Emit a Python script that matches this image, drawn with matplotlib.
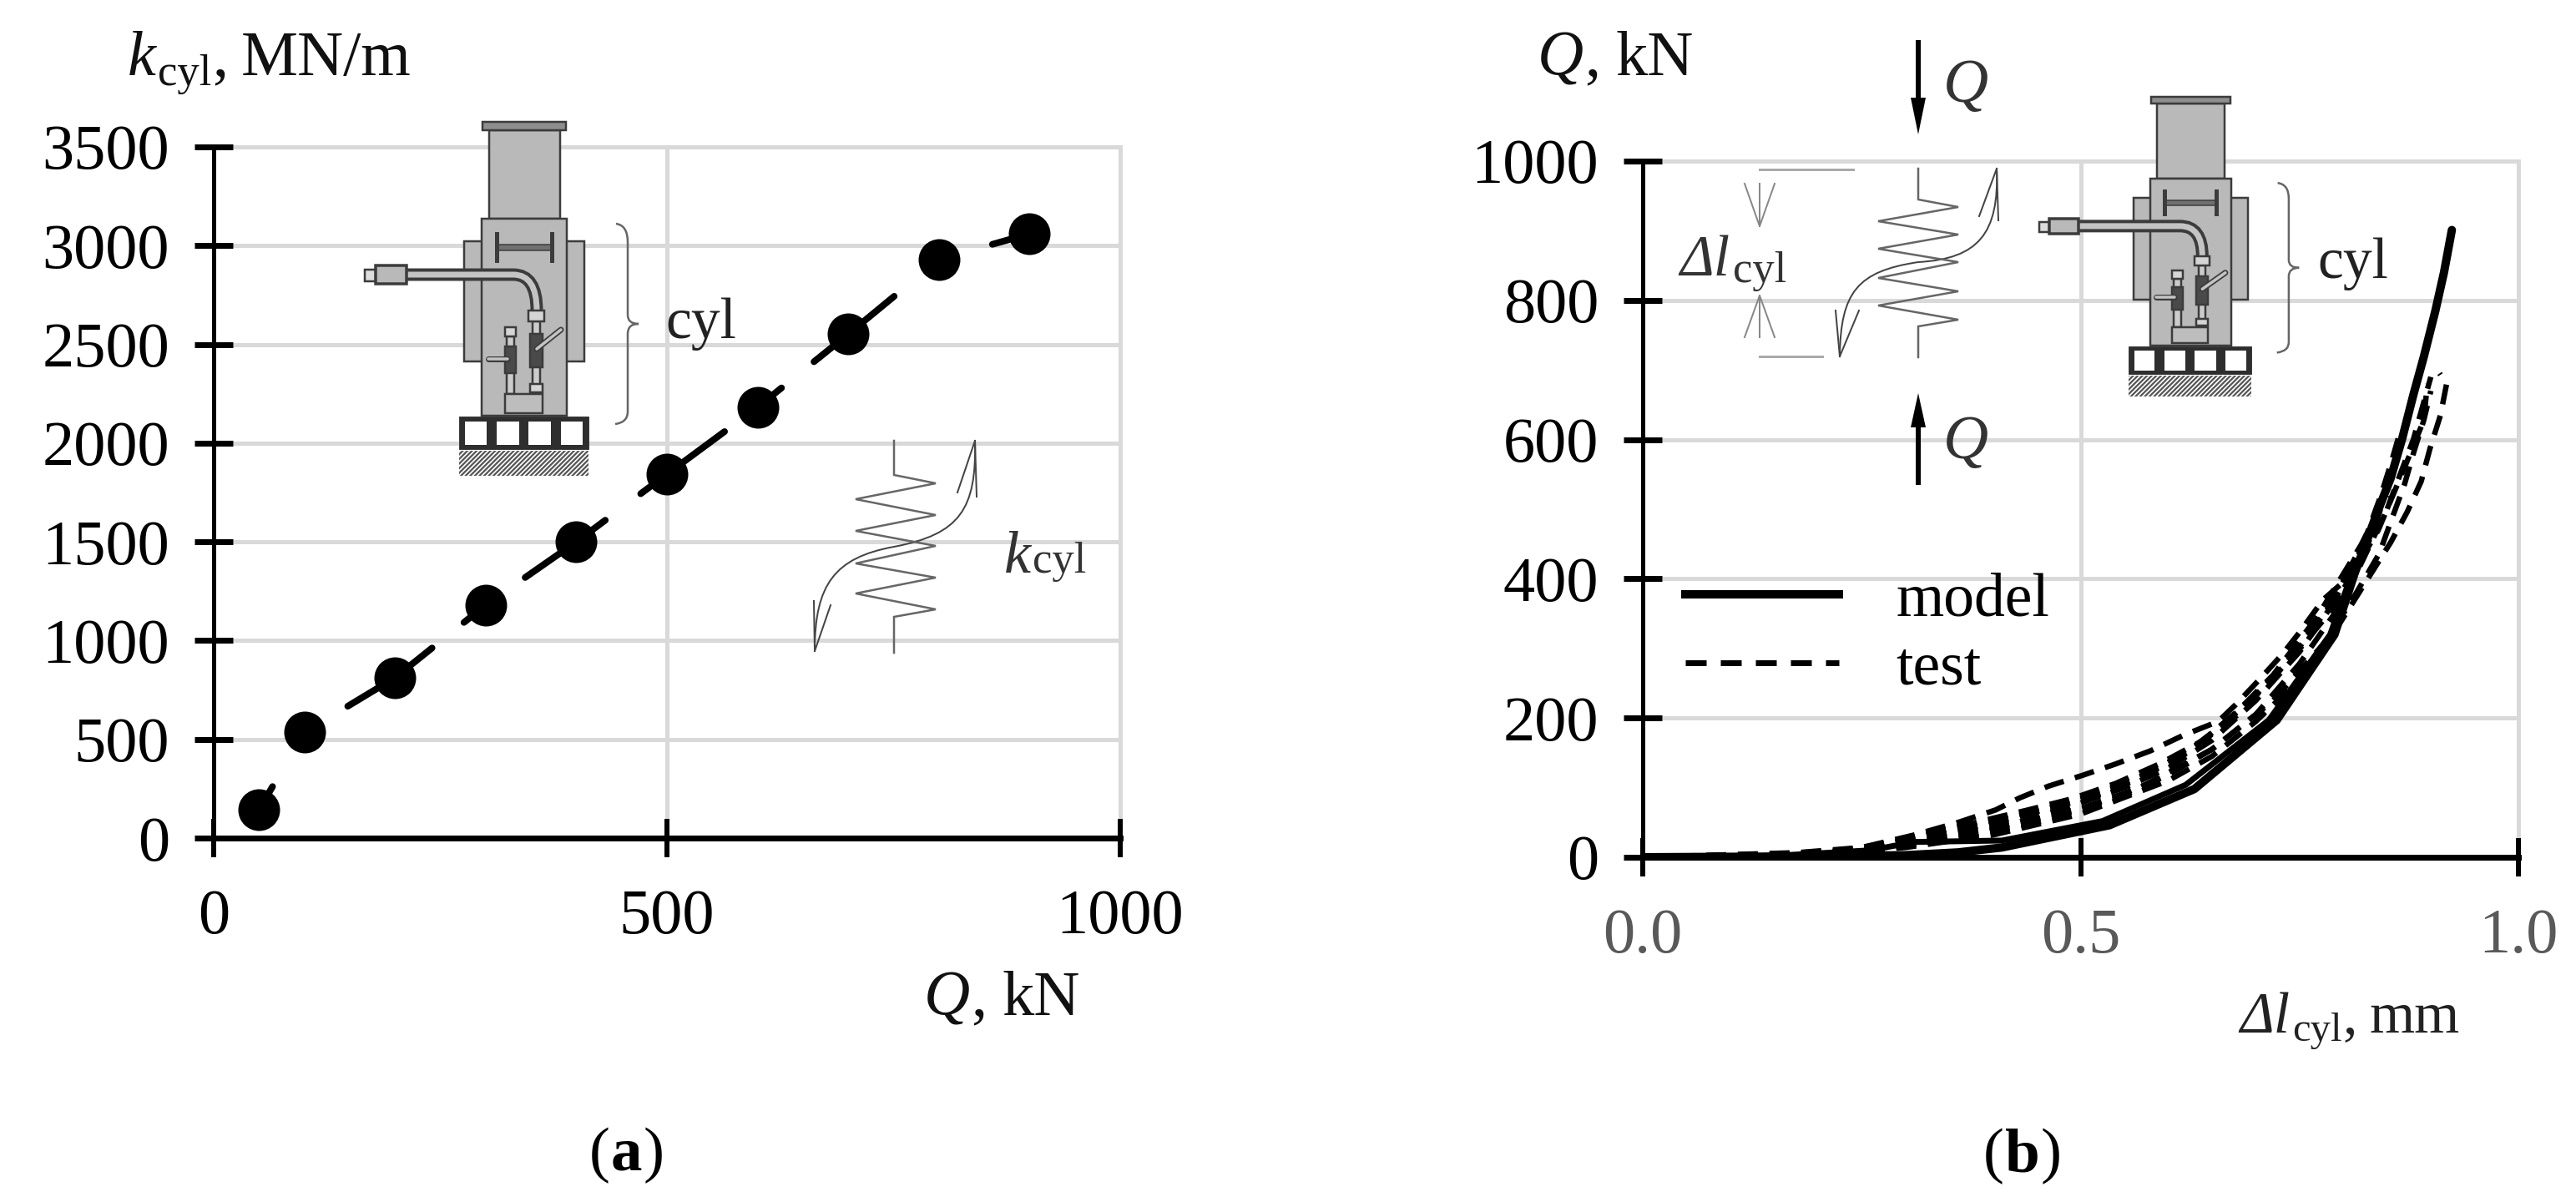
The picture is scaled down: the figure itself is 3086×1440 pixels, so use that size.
"""
plot.py - two-panel cylinder stiffness figure: k_cyl vs Q (a) and Q vs dl_cyl (b).
Positions are worked out in image pixels of the 3086x1440 picture.
"""
import matplotlib
matplotlib.use("Agg")
import matplotlib.pyplot as plt
from matplotlib.lines import Line2D
from matplotlib.patches import Rectangle, PathPatch, Polygon
from matplotlib.path import Path
from matplotlib.transforms import Affine2D

plt.rcParams["font.family"] = ["Liberation Serif", "DejaVu Serif"]
plt.rcParams["lines.scale_dashes"] = False
plt.rcParams["hatch.linewidth"] = 1.6

W, H = 3086, 1440
PX = 0.72  # points per image pixel at dpi 100

# --- panel (a) ---
q_kn = [50, 100, 200, 300, 400, 500, 600, 700, 800, 900]
k_cyl = [144, 535, 812, 1180, 1500, 1843, 2182, 2552, 2930, 3060]
a_xticks = [0, 500, 1000]
a_yticks = [0, 500, 1000, 1500, 2000, 2500, 3000, 3500]

# --- panel (b) ---
b_xticks = [0.0, 0.5, 1.0]
b_xticklabels = ["0.0", "0.5", "1.0"]
b_yticks = [0, 200, 400, 600, 800, 1000]

model_x = [0, .15, .3, .36, .41, .533, .63, .724, .79, .813, .825, .839, .854, .867, .88, .892, .905, .915, .924]
model_y = [0, 1, 3, 7, 14, 46, 98, 197, 320, 408, 448, 496, 544, 600, 664, 719, 784, 840, 901]
model2_x = [0, .15, .26, .31, .41, .525, .62, .715, .785, .81, .825]
model2_y = [0, 2, 10, 22, 24, 52, 104, 197, 320, 408, 448]

test_a_x = [0, .15, .25, .31, .36, .403, .43, .463, .503, .54, .58, .617, .657, .677, .704, .73, .75, .777, .797, .817, .828, .843, .855, .866]
test_a_y = [0, 4, 14, 32, 50, 68, 85, 102, 118, 134, 153, 175, 195, 219, 255, 291, 323, 370, 392, 438, 468, 520, 568, 616]
test_b_x = [0, .15, .25, .31, .35, .396, .443, .483, .523, .557, .59, .624, .654, .684, .717, .75, .784, .81, .835, .86, .878]
test_b_y = [0, 3, 12, 28, 40, 52, 64, 76, 90, 108, 129, 151, 183, 215, 255, 299, 351, 400, 470, 570, 660]
test_c_x = [0, .2, .3, .38, .45, .5, .55, .6, .65, .7, .75, .8, .85, .88, .9]
test_c_y = [0, 5, 18, 38, 55, 70, 92, 118, 155, 205, 278, 368, 500, 600, 690]
test_d_x = [0, .2, .3, .35, .4, .45, .5, .55, .6, .65, .7, .75, .8, .84, .87, .892, .896]
test_d_y = [0, 4, 16, 28, 40, 58, 78, 100, 128, 168, 225, 295, 385, 470, 560, 628, 680]
test_e_x = [0, .2, .3, .4, .5, .6, .65, .7, .75, .797, .832, .854, .873, .889, .899, .911, .918, .91]
test_e_y = [0, 4, 14, 32, 62, 110, 145, 195, 255, 338, 408, 452, 496, 540, 587, 635, 680, 695]
test_f_x = [0, .25, .35, .45, .55, .65, .72, .78, .815, .841, .856, .87, .881, .892, .9]
test_f_y = [0, 8, 25, 50, 88, 155, 225, 310, 380, 436, 488, 536, 584, 628, 670]
test_g_x = [0, .2, .28, .33, .38, .44, .49, .54, .59, .64, .69, .74, .79, .83]
test_g_y = [0, 5, 20, 36, 50, 68, 84, 106, 134, 168, 220, 285, 370, 460]
test_h_x = [0, .22, .3, .36, .42, .47, .52, .57, .62, .67, .72, .77, .82, .85]
test_h_y = [0, 7, 24, 38, 55, 72, 92, 117, 150, 198, 262, 345, 448, 520]
test_i_x = [0, .24, .32, .37, .43, .48, .53, .58, .63, .68, .73, .78, .82, .86]
test_i_y = [0, 9, 26, 42, 60, 76, 95, 122, 158, 205, 272, 352, 440, 560]
test_series = [(test_a_x, test_a_y), (test_b_x, test_b_y), (test_c_x, test_c_y), (test_d_x, test_d_y),
               (test_e_x, test_e_y), (test_f_x, test_f_y), (test_g_x, test_g_y), (test_h_x, test_h_y),
               (test_i_x, test_i_y)]

# dash run along the panel (a) line, in image pixels (on, off, on, ...)
a_dashes_px = [32, 136, 123, 49, 42, 49, 118, 53, 125, 53, 33, 50, 124, 50, 37, 49, 37, 50]

# spring sketches, image pixels
spring_a_pts = [(1071, 528), (1071, 569), (1121, 579), (1025, 598), (1121, 617), (1025, 636), (1121, 654),
                (1025, 675), (1121, 692), (1025, 711), (1121, 730), (1071, 739), (1071, 782)]
spring_b_pts = [(2298, 202), (2298, 239), (2346, 248), (2250, 265), (2346, 281), (2250, 298), (2346, 314),
                (2250, 333), (2346, 349), (2250, 366), (2346, 383), (2298, 391), (2298, 428)]

GRID = "#D9D9D9"
LINE = "#666666"
FILL = "#B9B9B9"
DARK = "#3C3C3C"
TICK_FS = 55


def panel_axes(fig, left, right, top, bottom):
    ax = fig.add_axes([left / W, 1 - bottom / H, (right - left) / W, (bottom - top) / H])
    ax.spines[["top", "right"]].set_visible(False)
    ax.spines["left"].set_linewidth(5 * PX)
    ax.spines["bottom"].set_linewidth(7 * PX)
    ax.spines["left"].set_capstyle("butt")
    ax.tick_params(axis="y", direction="inout", length=46 * PX, width=7 * PX, labelsize=TICK_FS, pad=30 * PX)
    ax.tick_params(axis="x", direction="inout", length=46 * PX, width=6 * PX, labelsize=TICK_FS, pad=38 * PX)
    ax.grid(True, color=GRID, linewidth=5 * PX)
    ax.set_axisbelow(True)
    return ax


def rich(ax, x, base, parts, color="#111111"):
    """Write (text, style, weight, size, dy, gap) runs one after the other from x on a baseline."""
    rend = ax.figure.canvas.get_renderer()
    for s, style, weight, size, dy, gap in parts:
        t = ax.text(x, base + dy, s, style=style, weight=weight, fontsize=size, va="baseline", ha="left", color=color)
        x += t.get_window_extent(rend).width + gap


def draw_cylinder(ax, ox, oy, sx, sy):
    # drawn in the pixel frame of panel (a), then moved and squeezed for panel (b)
    tr = Affine2D().translate(-550, -145).scale(sx, sy).translate(ox, oy) + ax.transData
    lw = 2.5 * PX

    def rect(x0, y0, x1, y1, fc=FILL, ec=DARK, w=lw, **kw):
        ax.add_patch(Rectangle((x0, y0), x1 - x0, y1 - y0, fc=fc, ec=ec, lw=w, transform=tr, **kw))

    def line(xs, ys, c=DARK, w=lw, **kw):
        ax.add_line(Line2D(xs, ys, color=c, lw=w, transform=tr, **kw))

    rect(556, 289, 700, 433)
    rect(586, 156, 671, 262)
    rect(578, 146, 678, 156, fc="#8E8E8E")
    rect(577, 262, 679, 498)
    # tie bar
    line([595, 595], [280, 312], w=5 * PX)
    line([661, 661], [280, 312], w=5 * PX)
    rect(595, 293, 661, 300, fc="#707070", w=1.5 * PX)
    # hose
    hose = Path([(487, 329), (615, 329), (643, 329), (643, 372)],
                [Path.MOVETO, Path.LINETO, Path.CURVE3, Path.CURVE3])
    ax.add_patch(PathPatch(hose, fc="none", ec=DARK, lw=15 * PX, transform=tr))
    ax.add_patch(PathPatch(hose, fc="none", ec="#C4C4C4", lw=7 * PX, transform=tr))
    rect(437, 323, 450, 337, fc="#DDDDDD")
    rect(450, 318, 487, 340, fc=FILL, w=3.5 * PX)
    # fittings
    rect(638, 385, 647, 472, fc="#CCCCCC")
    rect(635, 400, 650, 440, fc="#4A4A4A")
    rect(633, 372, 652, 385, fc="#D5D5D5")
    rect(635, 460, 650, 470, fc="#D5D5D5")
    line([643, 672], [418, 395], w=7 * PX, solid_capstyle="round")
    line([643, 672], [418, 395], c="#C4C4C4", w=3.5 * PX, solid_capstyle="round")
    rect(607, 403, 616, 472, fc="#CCCCCC")
    rect(605, 415, 618, 447, fc="#4A4A4A")
    rect(605, 392, 618, 403, fc="#D5D5D5")
    line([585, 608], [430, 430], w=7 * PX, solid_capstyle="round")
    line([585, 608], [430, 430], c="#C4C4C4", w=3.5 * PX, solid_capstyle="round")
    rect(605, 472, 650, 495, fc="#BDBDBD")
    # base with cells and hatched ground
    rect(550, 499, 705, 538, fc="#2E2E2E", w=1 * PX)
    for x0, x1 in [(557, 583), (595, 622), (633, 660), (672, 698)]:
        rect(x0, 505, x1, 533, fc="white", ec="none", w=0)
    ax.add_patch(Rectangle((550, 540), 155, 30, fc="white", ec="#555555", lw=0, hatch="//////", transform=tr))
    # brace
    brace = Path([(738, 268), (752, 270), (752, 290), (752, 377), (752, 388), (765, 388),
                  (752, 388), (752, 400), (752, 493), (752, 506), (737, 508)],
                 [Path.MOVETO, Path.CURVE3, Path.CURVE3, Path.LINETO, Path.CURVE3, Path.CURVE3,
                  Path.CURVE3, Path.CURVE3, Path.LINETO, Path.CURVE3, Path.CURVE3])
    ax.add_patch(PathPatch(brace, fc="none", ec=LINE, lw=2.5 * PX, transform=tr))


def draw_spring(ax, pts, curve, head_top, head_bottom):
    xs, ys = zip(*pts)
    ax.plot(xs, ys, color=LINE, lw=2.5 * PX, solid_joinstyle="miter")
    codes = [Path.MOVETO] + [Path.CURVE4] * (len(curve) - 1)
    ax.add_patch(PathPatch(Path(curve, codes), fc="none", ec="#444444", lw=2 * PX))
    for tip, wings in ((curve[0], head_top), (curve[-1], head_bottom)):
        for w in wings:
            ax.plot([tip[0], w[0]], [tip[1], w[1]], color="#444444", lw=2 * PX)


def load_arrow(ax, x, y0, y1, tip_y, base_y):
    ax.plot([x, x], [y0, y1], color="black", lw=6 * PX, solid_capstyle="butt")
    ax.add_patch(Polygon([(x - 9, base_y), (x + 9, base_y), (x, tip_y)], fc="black", ec="none"))


fig = plt.figure(figsize=(W / 100, H / 100), dpi=100)

# panel (a)
ax_a = panel_axes(fig, 256, 1342, 176, 1004)
ax_a.plot(q_kn, k_cyl, color="black", lw=8 * PX, dash_capstyle="round",
          dashes=[d * PX for d in a_dashes_px])
ax_a.plot(q_kn, k_cyl, ls="none", marker="o", ms=50 * PX, mfc="black", mec="black", mew=0)
ax_a.set_xlim(0, 1000)
ax_a.set_ylim(0, 3500)
ax_a.set_xticks(a_xticks)
ax_a.set_yticks(a_yticks)
for g in ax_a.get_xgridlines() + ax_a.get_ygridlines():
    g.set_clip_on(False)

# panel (b)
ax_b = panel_axes(fig, 1968, 3017, 193, 1027)
for tx, ty in test_series:
    ax_b.plot(tx, ty, color="black", lw=6.5 * PX, dashes=(24 * PX, 14 * PX), dash_capstyle="butt")
ax_b.plot(model2_x, model2_y, color="black", lw=7 * PX)
ax_b.plot(model_x, model_y, color="black", lw=10 * PX, solid_capstyle="round")
ax_b.set_xlim(0, 1)
ax_b.set_ylim(0, 1000)
ax_b.set_xticks(b_xticks, b_xticklabels)
ax_b.set_yticks(b_yticks)
ax_b.tick_params(axis="x", labelcolor="#595959")
for g in ax_b.get_xgridlines() + ax_b.get_ygridlines():
    g.set_clip_on(False)
handles = [Line2D([], [], color="black", lw=10 * PX),
           Line2D([], [], color="black", lw=7 * PX, dashes=(25 * PX, 17 * PX))]
ax_b.legend(handles, ["model", "test"], frameon=False, fontsize=53, loc="upper left",
            bbox_to_anchor=(2019 / W, 1 - 686 / H), bbox_transform=fig.transFigure,
            borderpad=0, borderaxespad=0, handlelength=2.5, handletextpad=0.93, labelspacing=0.2)

# overlay in image pixels for the sketches and the free labels
ov = fig.add_axes([0, 0, 1, 1], zorder=5)
ov.set_xlim(0, W)
ov.set_ylim(H, 0)
ov.axis("off")
fig.canvas.draw()

draw_cylinder(ov, 550, 145, 1.0, 1.0)
draw_cylinder(ov, 2550, 115, 0.95, 0.847)
draw_spring(ov, spring_a_pts,
            [(1168, 528), (1170, 610), (1150, 640), (1071, 655), (1000, 668), (976, 700), (976, 780)],
            [(1147, 590), (1170, 595)], [(975, 720), (995, 725)])
draw_spring(ov, spring_b_pts,
            [(2392, 202), (2395, 280), (2370, 310), (2298, 314), (2225, 325), (2205, 350), (2204, 427)],
            [(2371, 259), (2394, 264)], [(2199, 372), (2227, 372)])

load_arrow(ov, 2298, 48, 120, 161, 117)
load_arrow(ov, 2298, 510, 581, 471, 512)

# dimension marks next to the right-hand spring
for xs, ys in [([2108, 2220], [203, 203]), ([2108, 2183], [427, 427])]:
    ov.plot(xs, ys, color="#AAAAAA", lw=3 * PX)
for v in [[(2090, 220), (2108, 271), (2126, 220)], [(2090, 404), (2108, 354), (2126, 404)]]:
    xs, ys = zip(*v)
    ov.plot(xs, ys, color="#888888", lw=2 * PX)
    ov.plot([2108, 2108], [ys[1], ys[0]], color="#888888", lw=2 * PX)

n = "normal"
rich(ov, 153, 90, [("k", "italic", n, 55, 0, 2), ("cyl", n, n, 38, 12, 1), (",", n, n, 55, 0, 16), ("MN/m", n, n, 55, 0, 0)])
rich(ov, 1107, 1216, [("Q", "italic", n, 55, 0, 1), (",", n, n, 55, 0, 18), ("kN", n, n, 55, 0, 0)])
rich(ov, 1842, 90, [("Q", "italic", n, 55, 0, 1), (",", n, n, 55, 0, 18), ("kN", n, n, 55, 0, 0)])
rich(ov, 2683, 1237, [("Δl", "italic", n, 50, 0, 3), ("cyl", n, n, 35, 10, 1), (",", n, n, 50, 0, 14), ("mm", n, n, 50, 0, 0)], color="#222222")
rich(ov, 2012, 330, [("Δl", "italic", n, 50, 0, 4), ("cyl", n, n, 38, 8, 0)], color="#333333")
rich(ov, 1203, 686, [("k", "italic", n, 52, 0, 2), ("cyl", n, n, 38, 0, 0)], color="#333333")
ov.text(797, 405, "cyl", fontsize=50, va="baseline", color="#222222")
ov.text(2776, 333, "cyl", fontsize=50, va="baseline", color="#222222")
ov.text(2328, 122, "Q", style="italic", fontsize=54, va="baseline", color="#333333")
ov.text(2328, 549, "Q", style="italic", fontsize=54, va="baseline", color="#333333")
rich(ov, 706, 1402, [("(", n, n, 54, 0, 1), ("a", n, "bold", 54, 0, 1), (")", n, n, 54, 0, 0)], color="black")
rich(ov, 2376, 1403, [("(", n, n, 54, 0, 1), ("b", n, "bold", 54, 0, 1), (")", n, n, 54, 0, 0)], color="black")

fig.savefig("out.png", dpi=100)
